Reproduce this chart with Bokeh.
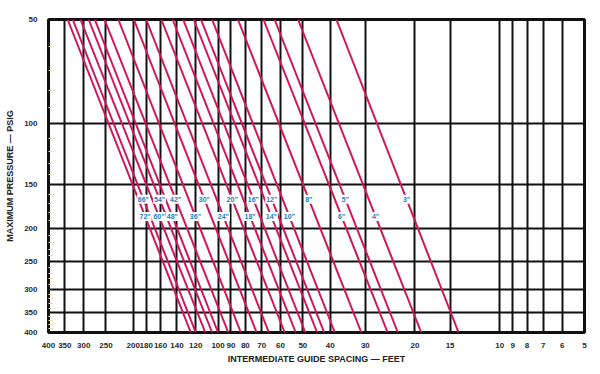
import math
from bokeh.plotting import figure
from bokeh.models import (Range1d, FixedTicker, NumeralTickFormatter,
                          ColumnDataSource)
from bokeh.core.properties import value
from bokeh.embed import file_html
from bokeh.resources import INLINE

# ---- data ----
pipe_sizes = ["72", "66", "60", "54", "48", "42", "36", "30", "24", "20",
              "18", "16", "14", "12", "10", "8", "6", "5", "4", "3"]
# intermediate guide spacing (feet) at 50 psig (top edge)
spacing_at_50psig = [342, 328, 308, 288, 274, 253, 226, 199, 180, 159,
                     145, 133, 122, 115, 105, 85, 69, 63, 52, 38]
# intermediate guide spacing (feet) at 400 psig (bottom edge)
spacing_at_400psig = [125, 120, 111, 105, 100, 92, 83, 73, 66, 58,
                      53, 49, 44.5, 42, 38.5, 31, 25, 23, 19, 14]
# pressure (psig) at which each size label sits
label_psig = [185, 165, 185, 165, 185, 165, 185, 165, 185, 165,
              185, 165, 185, 165, 185, 165, 185, 165, 185, 165]

x_ticks = [400, 350, 300, 250, 200, 180, 160, 140, 120, 100, 90, 80, 70,
           60, 50, 40, 30, 20, 15, 10, 9, 8, 7, 6, 5]
y_ticks = [50, 100, 150, 200, 250, 300, 350, 400]
y_minor = [60, 70, 80, 90, 110, 120, 130, 140, 160, 170, 180, 190,
           210, 220, 230, 240, 260, 270, 280, 290, 310, 320, 330, 340,
           360, 370, 380, 390]

P_TOP, P_BOT = 50, 400

FONT = "Arial"
RED = "#d3145a"
BLUE = "#1f7cc4"

p = figure(width=592, height=366,
           x_axis_type="log", y_axis_type="log",
           x_range=Range1d(400, 5), y_range=Range1d(400, 50),
           output_backend="svg", toolbar_location=None,
           min_border_left=48, min_border_right=8,
           min_border_top=19, min_border_bottom=34,
           background_fill_color="white", border_fill_color="white")

p.outline_line_color = "#111111"
p.outline_line_width = 3

# grid
p.xgrid.ticker = FixedTicker(ticks=x_ticks)
p.ygrid.ticker = FixedTicker(ticks=y_ticks)
for g in (p.xgrid, p.ygrid):
    g.grid_line_color = "#111111"
    g.grid_line_width = 2
    g.grid_line_alpha = 1

# x axis
xa = p.xaxis[0]
xa.ticker = FixedTicker(ticks=x_ticks)
xa.formatter = NumeralTickFormatter(format="0")
xa.axis_line_color = None
xa.major_tick_line_color = None
xa.minor_tick_line_color = None
xa.major_label_standoff = 4
xa.major_label_text_font = FONT
xa.major_label_text_font_size = "8px"
xa.major_label_text_font_style = "bold"
xa.major_label_text_color = "#2a2a2a"
xa.axis_label = "INTERMEDIATE GUIDE SPACING \u2014 FEET"
xa.axis_label_text_font = FONT
xa.axis_label_text_font_size = "9px"
xa.axis_label_text_font_style = "bold"
xa.axis_label_text_color = "#222222"
xa.axis_label_standoff = 3

# y axis
ya = p.yaxis[0]
ya.ticker = FixedTicker(ticks=y_ticks, minor_ticks=y_minor)
ya.formatter = NumeralTickFormatter(format="0")
ya.axis_line_color = None
ya.major_tick_line_color = None
ya.minor_tick_line_color = "#eee2b4"
ya.minor_tick_in = 5
ya.minor_tick_out = 0
ya.major_label_standoff = 5
ya.major_label_text_font = FONT
ya.major_label_text_font_size = "8px"
ya.major_label_text_font_style = "bold"
ya.major_label_text_color = "#2a2a2a"
ya.axis_label = "MAXIMUM PRESSURE \u2014 PSIG"
ya.axis_label_text_font = FONT
ya.axis_label_text_font_size = "9px"
ya.axis_label_text_font_style = "bold"
ya.axis_label_text_color = "#222222"
ya.axis_label_standoff = 6

# pipe-size lines
src = ColumnDataSource(dict(x0=spacing_at_50psig, y0=[P_TOP] * len(pipe_sizes),
                            x1=spacing_at_400psig, y1=[P_BOT] * len(pipe_sizes)))
p.segment(x0="x0", y0="y0", x1="x1", y1="y1", source=src,
          line_color=RED, line_width=2)

# labels on the lines
lx, ly, lt = [], [], []
for s, a, b, pl in zip(pipe_sizes, spacing_at_50psig, spacing_at_400psig, label_psig):
    t = (math.log(pl) - math.log(P_TOP)) / (math.log(P_BOT) - math.log(P_TOP))
    lx.append(math.exp(math.log(a) + t * (math.log(b) - math.log(a))))
    ly.append(pl)
    lt.append(s + '"')
lab_src = ColumnDataSource(dict(x=lx, y=ly, t=lt))
p.text(x="x", y="y", text="t", source=lab_src,
       text_font=value(FONT), text_font_size=value("7px"),
       text_font_style="bold", text_color=BLUE,
       text_align="center", text_baseline="middle",
       background_fill_color="white", padding=1)

open("out.html", "w").write(file_html(p, INLINE))
